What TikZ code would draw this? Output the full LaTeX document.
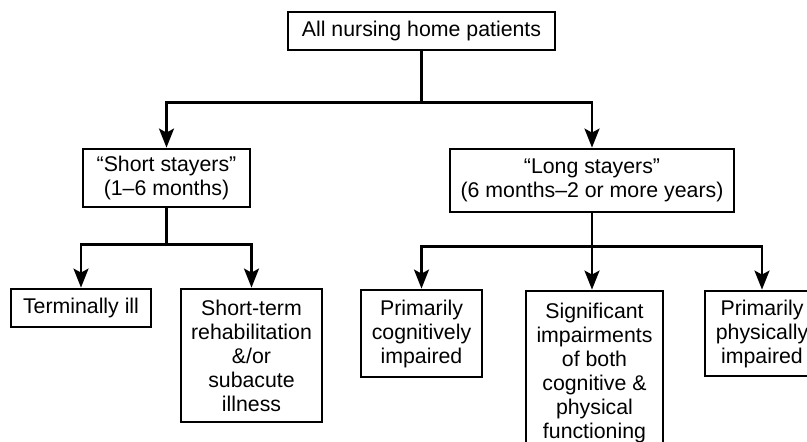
\documentclass[tikz,border=0pt]{standalone}
\usepackage{fontspec}
\setmainfont{Liberation Sans}
\usetikzlibrary{arrows.meta}

\tikzset{
    box/.style={draw, line width=2.8pt, align=center, inner sep=0pt,
        font=\fontsize{21.3}{24}\selectfont},
    link/.style={line width=2.6pt},
    arr/.style={link, -{Stealth[length=19pt, width=15pt, inset=4pt]}}
}

\begin{document}
\begin{tikzpicture}[x=1pt, y=-1pt]
        \useasboundingbox (0,0) rectangle (807,442);
        \clip (0,0) rectangle (807,442);

        \node[box, minimum width=267pt, minimum height=38pt] (all) at (421.5, 31) {All nursing home patients};

        \node[box, minimum width=167pt, minimum height=58pt] (short) at (166.5, 178) {“Short stayers”\\(1–6 months)};
        \node[box, minimum width=284pt, minimum height=63pt] (long) at (592, 180.5) {“Long stayers”\\(6 months–2 or more years)};

        \node[box, minimum width=140pt, minimum height=38pt] (terminal) at (81, 308) {Terminally ill};
        \node[box, minimum width=141pt, minimum height=133pt] (rehab) at (251.5, 355.5) {Short-term\\rehabilitation\\\&/or\\subacute\\illness};

        \node[box, minimum width=121pt, minimum height=87pt] (cognitive) at (421.5, 333.5) {Primarily\\cognitively\\impaired};
        \node[box, minimum width=137pt, minimum height=163pt] (both) at (594.5, 372.5) {Significant\\impairments\\of both\\cognitive \&\\physical\\functioning};
        \node[box, minimum width=114pt, minimum height=85pt] (physical) at (762, 333.5) {Primarily\\physically\\impaired};

        \draw [link] (all.south) -- ++(0,51) coordinate (j1);
        \draw [arr] (j1) -| (short.north);
        \draw [arr] (j1) -| (long.north);

        \draw [link] (short.south) -- ++(0,36) coordinate (j2);
        \draw [arr] (j2) -| (terminal.north);
        \draw [arr] (j2) -| (rehab.north);

        \draw [link] (long.south) -- ++(0,33) coordinate (j3);
        \draw [arr] (j3) -| (cognitive.north);
        \draw [arr] (j3) -- (j3 |- both.north);
        \draw [arr] (j3) -| (physical.north);
\end{tikzpicture}
\end{document}
